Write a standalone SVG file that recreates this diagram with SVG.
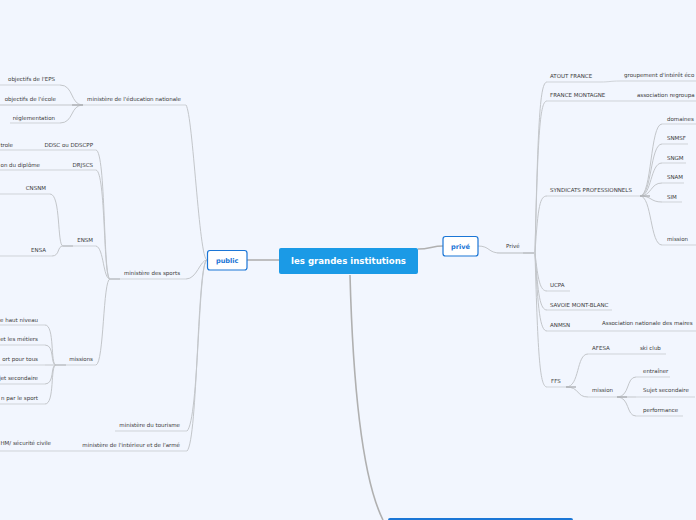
<svg xmlns="http://www.w3.org/2000/svg" width="696" height="520" viewBox="0 0 696 520">
<style>
.t{font-family:"DejaVu Sans",Verdana,sans-serif;font-size:5.5px;fill:#3a3a3a}
.e{text-anchor:end}
.ul{stroke:#cfd3d8;stroke-width:1;fill:none}
.c{stroke:#c3c6ca;stroke-width:1;fill:none}
.g{stroke:#aeb1b5;stroke-width:1.4;fill:none}
.m{stroke:#b0b0b0;stroke-width:1.6;fill:none}
.box{fill:#fff;stroke:#1b76d6;stroke-width:1.2}
.bt{font-family:"DejaVu Sans",Verdana,sans-serif;font-weight:bold;font-size:6.6px;fill:#1b76d6;text-anchor:middle}
</style>
<rect width="696" height="520" fill="#f2f6fe"/>
<g id="connectors">
<path class="m" d="M279,260 L247,260"/>
<path class="m" d="M418,249 C430,249 432,246 443,246"/>
<path class="m" d="M350,275 C352,350 358,470 383,520"/>
<path class="c" d="M478,246 C490,246 488,253 500,253 L535,253"/>
<path class="g" d="M523,253 L535,253"/>
<path class="c" d="M207,260 C199,259 193,115 186,105"/>
<path class="c" d="M207,260 C200,260 197,279 186,279"/>
<path class="c" d="M207,260 C198,262 199,420 187,431"/>
<path class="c" d="M207,260 C197,262 198,440 187,451"/>
<path class="c" d="M83,105 C70,105 74,85 60,85"/>
<path class="c" d="M83,105 L0,105"/>
<path class="c" d="M83,105 C70,105 74,123 60,123"/>
<path class="g" d="M72,105 L83,105"/>
<path class="c" d="M110,279 C103,279 106,152 96,150"/>
<path class="c" d="M110,279 C103,279 106,172 96,170"/>
<path class="c" d="M110,279 C103,279 104,248 96,246"/>
<path class="c" d="M110,279 C103,279 104,363 96,365"/>
<path class="g" d="M110,279 L120,279"/>
<path class="c" d="M63,246 C57,246 61,194 50,194"/>
<path class="c" d="M63,246 C57,246 60,256 52,256"/>
<path class="g" d="M63,246 L73,246"/>
<path class="c" d="M56,365 C50,365 55,325 45,325"/>
<path class="c" d="M56,365 C50,365 55,345 45,345"/>
<path class="c" d="M56,365 L45,365"/>
<path class="c" d="M56,365 C50,365 55,384 45,384"/>
<path class="c" d="M56,365 C50,365 55,404 45,404"/>
<path class="g" d="M56,365 L66,365"/>
<path class="c" d="M535,253 C538,120 540,82 547,82"/>
<path class="c" d="M535,253 C538,130 540,101 547,101"/>
<path class="c" d="M535,253 C538,205 540,196 547,196"/>
<path class="c" d="M535,253 C538,280 540,291 547,291"/>
<path class="c" d="M535,253 C538,295 540,310 547,310"/>
<path class="c" d="M535,253 C538,310 540,331 547,331"/>
<path class="c" d="M535,253 C538,360 540,387 547,387"/>
<path class="c" d="M640,196 C652,196 650,124 662,124"/>
<path class="c" d="M640,196 C652,196 650,144 662,144"/>
<path class="c" d="M640,196 C652,196 650,163 662,163"/>
<path class="c" d="M640,196 C652,196 650,183 662,183"/>
<path class="c" d="M640,196 C652,196 650,202 662,202"/>
<path class="c" d="M640,196 C652,196 650,245 662,245"/>
<path class="g" d="M640,196 L650,196"/>
<path class="c" d="M566,387 C580,387 576,354 588,354"/>
<path class="c" d="M566,387 C580,387 576,397 588,397"/>
<path class="g" d="M566,387 L576,387"/>
<path class="c" d="M617,397 C630,397 626,377 636,377"/>
<path class="c" d="M617,397 L636,397"/>
<path class="c" d="M617,397 C630,397 626,416 636,416"/>
<path class="g" d="M617,397 L627,397"/>
</g>
<g id="center"><rect x="279" y="248" width="139" height="26" rx="2" fill="#1b9ae6"/><text x="348.5" y="264" font-family="DejaVu Sans,Verdana,sans-serif" font-weight="bold" font-size="8.6" fill="#fff" text-anchor="middle">les grandes institutions</text></g>
<g id="public"><rect class="box" x="207.5" y="250.5" width="39.5" height="19.5" rx="2.5"/><text class="bt" x="227.2" y="262.8">public</text></g>
<g id="prive"><rect class="box" x="443" y="236.5" width="35" height="19.5" rx="2.5"/><text class="bt" x="460.5" y="248.8">privé</text></g>
<g id="bottom"><rect x="388" y="518" width="185" height="12" rx="2" fill="#1b76d6"/></g>
<g id="privechild"><path class="ul" d="M497,253 L535,253"/><text class="t" x="506" y="248">Privé</text></g>
<g id="edu"><path class="ul" d="M83,105 L186,105"/><text class="t e" x="181" y="101">ministère de l'éducation nationale</text></g>
<g id="eps"><path class="ul" d="M0,85 L60,85"/><text class="t e" x="55" y="81">objectifs de l'EPS</text></g>
<g id="ecole"><text class="t e" x="56" y="101">objectifs de l'école</text></g>
<g id="regl"><path class="ul" d="M10,123 L60,123"/><text class="t e" x="55" y="120">réglementation</text></g>
<g id="sports"><path class="ul" d="M110,279 L186,279"/><text class="t e" x="180" y="275">ministère des sports</text></g>
<g id="ddsc"><path class="ul" d="M0,150 L96,150"/><text class="t e" x="93" y="147">DDSC ou DDSCPP</text><text class="t e" x="13" y="147">trole</text></g>
<g id="drjscs"><path class="ul" d="M0,170 L96,170"/><text class="t e" x="93" y="167">DRJSCS</text><text class="t e" x="40" y="167">on du diplôme</text></g>
<g id="ensm"><path class="ul" d="M63,246 L96,246"/><text class="t e" x="93" y="242">ENSM</text></g>
<g id="cnsnm"><path class="ul" d="M0,194 L50,194"/><text class="t e" x="46" y="190">CNSNM</text></g>
<g id="ensa"><path class="ul" d="M0,256 L52,256"/><text class="t e" x="46" y="252">ENSA</text></g>
<g id="missions"><path class="ul" d="M56,365 L96,365"/><text class="t e" x="93" y="361">missions</text></g>
<g id="m1"><path class="ul" d="M0,325 L45,325"/><text class="t e" x="38" y="322">e haut niveau</text></g>
<g id="m2"><path class="ul" d="M0,345 L45,345"/><text class="t e" x="38" y="341">et les métiers</text></g>
<g id="m3"><path class="ul" d="M0,365 L45,365"/><text class="t e" x="38" y="361">ort pour tous</text></g>
<g id="m4"><path class="ul" d="M0,384 L45,384"/><text class="t e" x="38" y="380">jet secondaire</text></g>
<g id="m5"><path class="ul" d="M0,404 L45,404"/><text class="t e" x="38" y="400">n par le sport</text></g>
<g id="tourisme"><path class="ul" d="M115,431 L187,431"/><text class="t e" x="180" y="427">ministère du tourisme</text></g>
<g id="interieur"><path class="ul" d="M0,451 L187,451"/><text class="t e" x="180" y="447">ministère de l'intérieur et de l'armé</text><text class="t e" x="51" y="445">HM/ sécurité civile</text></g>
<g id="atout"><path class="ul" d="M547,82 L600,82 C610,82 610,81 620,81 L696,81"/><text class="t" x="550" y="78">ATOUT FRANCE</text><text class="t" x="624" y="77">groupement d'intérêt éco</text></g>
<g id="fm"><path class="ul" d="M547,101 L696,101"/><text class="t" x="550" y="97">FRANCE MONTAGNE</text><text class="t" x="637" y="97">association regroupa</text></g>
<g id="synd"><path class="ul" d="M547,196 L640,196"/><text class="t" x="550" y="192">SYNDICATS PROFESSIONNELS</text></g>
<g id="dom"><path class="ul" d="M662,124 L696,124"/><text class="t" x="667" y="121">domaines</text></g>
<g id="snmsf"><path class="ul" d="M662,144 L688,144"/><text class="t" x="667" y="140">SNMSF</text></g>
<g id="sngm"><path class="ul" d="M662,163 L686,163"/><text class="t" x="667" y="160">SNGM</text></g>
<g id="snam"><path class="ul" d="M662,183 L684,183"/><text class="t" x="667" y="179">SNAM</text></g>
<g id="sim"><path class="ul" d="M662,202 L682,202"/><text class="t" x="667" y="199">SIM</text></g>
<g id="smission"><path class="ul" d="M662,245 L696,245"/><text class="t" x="667" y="241">mission</text></g>
<g id="ucpa"><path class="ul" d="M547,291 L570,291"/><text class="t" x="550" y="287">UCPA</text></g>
<g id="savoie"><path class="ul" d="M547,310 L612,310"/><text class="t" x="550" y="307">SAVOIE MONT-BLANC</text></g>
<g id="anmsn"><path class="ul" d="M547,331 L696,331"/><text class="t" x="550" y="327">ANMSN</text><text class="t" x="602" y="325">Association nationale des maires</text></g>
<g id="ffs"><path class="ul" d="M547,387 L566,387"/><text class="t" x="551" y="383">FFS</text></g>
<g id="afesa"><path class="ul" d="M588,354 L666,354"/><text class="t" x="592" y="350">AFESA</text><text class="t" x="640" y="350">ski club</text></g>
<g id="fmission"><path class="ul" d="M588,397 L617,397"/><text class="t" x="592" y="392">mission</text></g>
<g id="entr"><path class="ul" d="M636,377 L670,377"/><text class="t" x="643" y="373">entraîner</text></g>
<g id="sujet"><path class="ul" d="M636,397 L695,397"/><text class="t" x="643" y="392">Sujet secondaire</text></g>
<g id="perf"><path class="ul" d="M636,416 L683,416"/><text class="t" x="643" y="412">performance</text></g>
</svg>
